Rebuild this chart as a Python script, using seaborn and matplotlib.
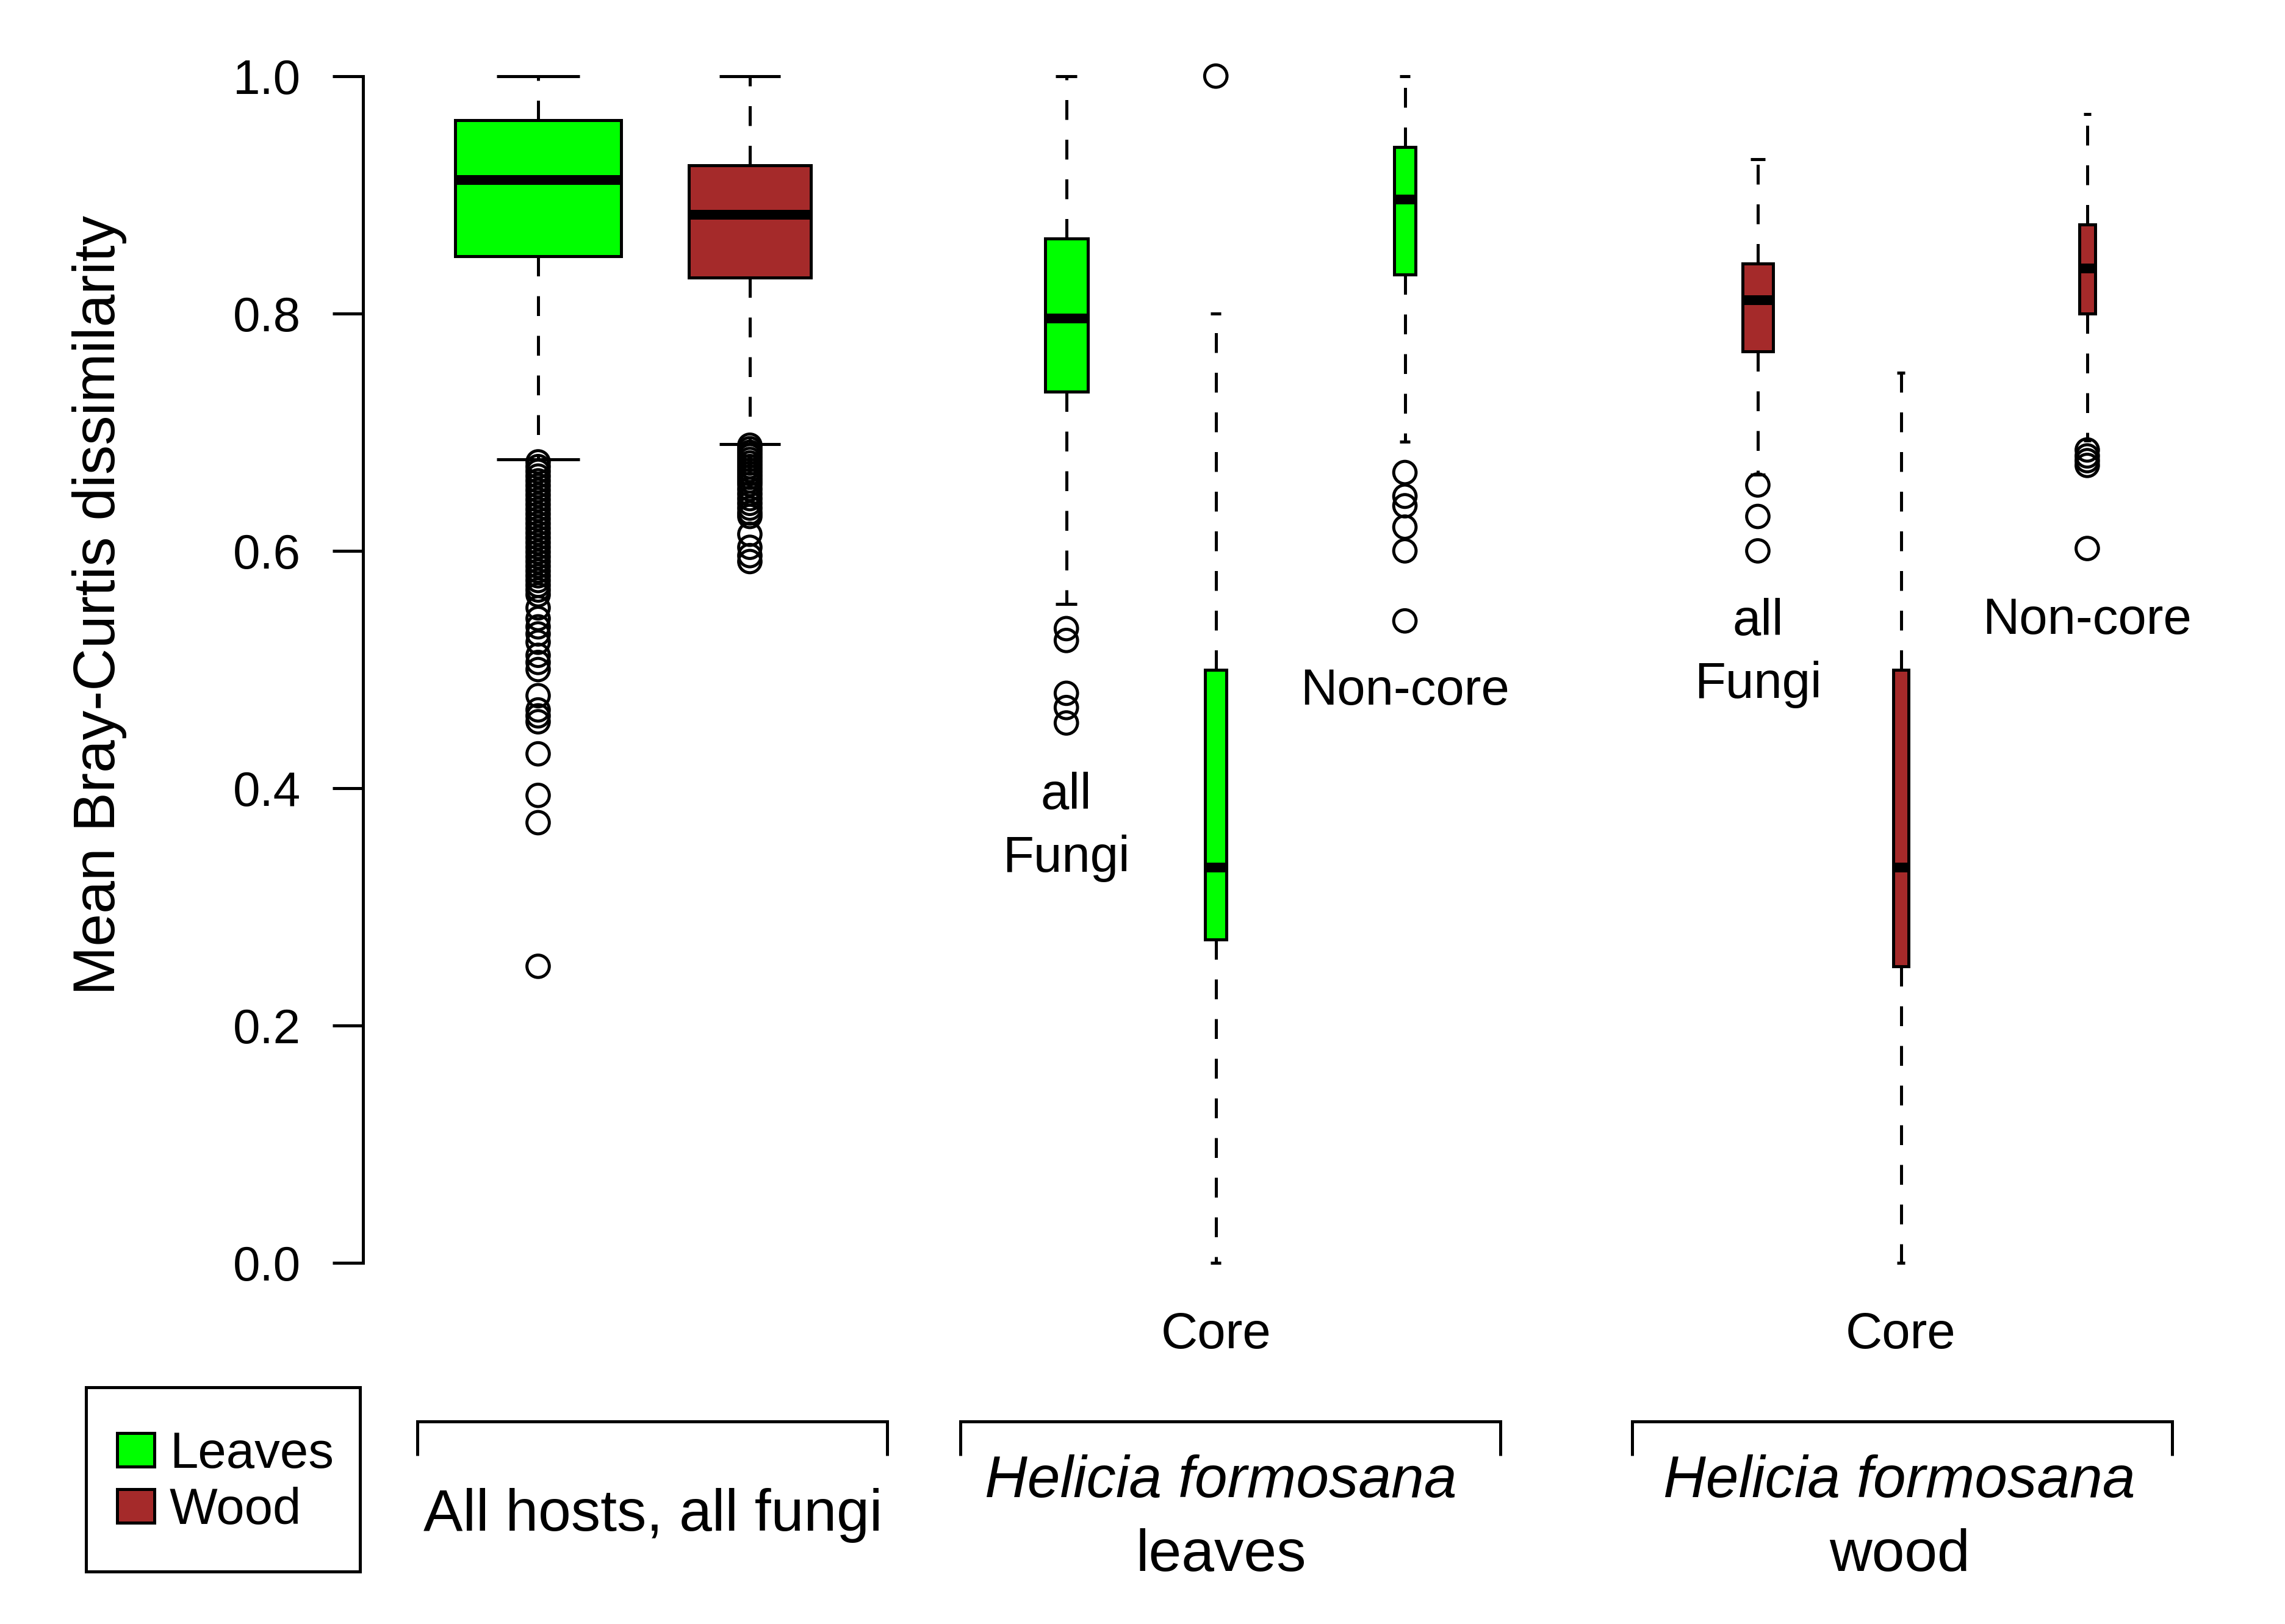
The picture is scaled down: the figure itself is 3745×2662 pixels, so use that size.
import matplotlib
matplotlib.use("Agg")
import matplotlib.pyplot as plt
import seaborn as sns
import pandas as pd
from matplotlib.patches import Patch, Rectangle

# ---------------- data ----------------
box_labels = [
    "All hosts, all fungi - Leaves",
    "All hosts, all fungi - Wood",
    "H. formosana leaves - all Fungi",
    "H. formosana leaves - Core",
    "H. formosana leaves - Non-core",
    "H. formosana wood - all Fungi",
    "H. formosana wood - Core",
    "H. formosana wood - Non-core",
]
tissue = ["Leaves", "Wood", "Leaves", "Leaves", "Leaves", "Wood", "Wood", "Wood"]

whisker_low = [0.677, 0.690, 0.555, 0.000, 0.692, 0.664, 0.000, 0.693]
q1_values = [0.848, 0.830, 0.734, 0.2725, 0.833, 0.768, 0.250, 0.800]
median_values = [0.9125, 0.883, 0.796, 0.333, 0.896, 0.811, 0.333, 0.838]
q3_values = [0.963, 0.925, 0.863, 0.500, 0.940, 0.842, 0.500, 0.875]
whisker_high = [1.000, 1.000, 1.000, 0.800, 1.000, 0.930, 0.750, 0.968]

outliers_all_leaves = [0.675, 0.671, 0.667, 0.663, 0.659, 0.655, 0.651, 0.647,
                       0.643, 0.639, 0.635, 0.631, 0.627, 0.623, 0.619, 0.615,
                       0.611, 0.607, 0.603, 0.599, 0.595, 0.591, 0.587, 0.583,
                       0.579, 0.575, 0.571, 0.567, 0.563, 0.552, 0.543, 0.536,
                       0.530, 0.523, 0.512, 0.506, 0.500, 0.478, 0.466, 0.461,
                       0.456, 0.429, 0.394, 0.371, 0.250]
outliers_all_wood = [0.689, 0.686, 0.683, 0.680, 0.677, 0.674, 0.671, 0.668,
                     0.665, 0.662, 0.659, 0.656, 0.652, 0.648, 0.644, 0.640,
                     0.636, 0.632, 0.629, 0.614, 0.603, 0.596, 0.591]
outliers_hf_leaves_all = [0.5345, 0.5245, 0.480, 0.468, 0.455]
outliers_hf_leaves_core = [1.000]
outliers_hf_leaves_noncore = [0.666, 0.646, 0.638, 0.620, 0.600, 0.541]
outliers_hf_wood_all = [0.6555, 0.629, 0.600]
outliers_hf_wood_core = []
outliers_hf_wood_noncore = [0.685, 0.680, 0.676, 0.672, 0.602]
outlier_lists = [outliers_all_leaves, outliers_all_wood, outliers_hf_leaves_all,
                 outliers_hf_leaves_core, outliers_hf_leaves_noncore,
                 outliers_hf_wood_all, outliers_hf_wood_core, outliers_hf_wood_noncore]

y_ticks = [0.0, 0.2, 0.4, 0.6, 0.8, 1.0]
y_tick_labels = ["0.0", "0.2", "0.4", "0.6", "0.8", "1.0"]
y_label = "Mean Bray-Curtis dissimilarity"
legend_labels = ["Leaves", "Wood"]
group_titles = ["All hosts, all fungi", "Helicia formosana", "Helicia formosana"]
group_subtitles = ["", "leaves", "wood"]

# ---------------- layout / style ----------------
W, H, DPI = 3745, 2662, 240
positions = [1.0, 2.0, 3.495, 4.201, 5.094, 6.761, 7.437, 8.317]
widths = [0.784, 0.577, 0.202, 0.100, 0.100, 0.1435, 0.071, 0.0726]
colors = {"Leaves": "#00FF00", "Wood": "#A52A2A"}
LW = 1.5

sns.set_style("ticks", rc={"axes.edgecolor": "black", "text.color": "black",
                           "xtick.color": "black", "ytick.color": "black",
                           "axes.labelcolor": "black"})
plt.rcParams["font.family"] = ["Liberation Sans", "DejaVu Sans"]

fig = plt.figure(figsize=(W / DPI, H / DPI), dpi=DPI)
fig.patch.set_facecolor("white")
ax_top_px, ax_bot_px = 46.9, 2148.1
ax = fig.add_axes([595 / W, 1 - ax_bot_px / H, (W - 595) / W, (ax_bot_px - ax_top_px) / H])
ax.set_facecolor("white")

stats = []
for lab, lo, a, m, b, hi in zip(box_labels, whisker_low, q1_values, median_values,
                                q3_values, whisker_high):
    stats.append(dict(label=lab, whislo=lo, q1=a, med=m, q3=b, whishi=hi, fliers=[]))

bp = ax.bxp(stats, positions=positions, widths=widths,
            capwidths=[w / 2 for w in widths], patch_artist=True,
            showfliers=False, manage_ticks=False,
            boxprops=dict(linewidth=LW, edgecolor="black", joinstyle="miter"),
            medianprops=dict(color="black", linewidth=4.8, solid_capstyle="butt"),
            whiskerprops=dict(color="black", linewidth=LW, linestyle=(0, (6.5, 6.5))),
            capprops=dict(color="black", linewidth=LW, solid_capstyle="butt"))
for patch, t in zip(bp["boxes"], tissue):
    patch.set_facecolor(colors[t])
    patch.set_zorder(3)
for med in bp["medians"]:
    med.set_zorder(4)

rows = []
for lab, vals in zip(box_labels, outlier_lists):
    for v in vals:
        rows.append({"group": lab, "value": v})
out_df = pd.DataFrame(rows)
out_df["x"] = out_df["group"].map(dict(zip(box_labels, positions)))
sns.scatterplot(data=out_df, x="x", y="value", ax=ax, s=121, fc="none",
                ec="black", linewidth=LW, legend=False, zorder=5, clip_on=False)

ax.set_xlim(0.173, 9.251)
ax.set_ylim(-0.04, 1.04)
ax.set_xticks([])
ax.set_xlabel("")
ax.set_yticks(y_ticks)
ax.set_yticklabels(y_tick_labels)
ax.tick_params(axis="y", length=15, width=LW, pad=15.6, labelsize=24, direction="out")
for s in ["top", "right", "bottom"]:
    ax.spines[s].set_visible(False)
ax.spines["left"].set_bounds(0, 1)
ax.spines["left"].set_linewidth(LW)
ax.set_ylabel(y_label, fontsize=29)
ax.yaxis.set_label_coords((208 - 595) / (W - 595), (ax_bot_px - 992) / (ax_bot_px - ax_top_px))

# in-plot annotations
ann = 25
ax.text(positions[2], 0.3826, "all", ha="center", va="baseline", fontsize=ann)
ax.text(positions[2], 0.3296, "Fungi", ha="center", va="baseline", fontsize=ann)
ax.text(positions[3], -0.0718, "Core", ha="center", va="baseline", fontsize=ann)
ax.text(positions[4], 0.4704, "Non-core", ha="center", va="baseline", fontsize=ann)
ax.text(positions[5], 0.5290, "all", ha="center", va="baseline", fontsize=ann)
ax.text(positions[5], 0.4761, "Fungi", ha="center", va="baseline", fontsize=ann)
ax.text(positions[6], -0.0718, "Core", ha="center", va="baseline", fontsize=ann)
ax.text(positions[7], 0.5300, "Non-core", ha="center", va="baseline", fontsize=ann)

# group brackets below the plot
brackets = [(0.429, 2.648), (2.994, 5.545), (6.167, 8.718)]
y_top, y_bot = -0.1335, -0.1623
for x0, x1 in brackets:
    ax.plot([x0, x0, x1, x1], [y_bot, y_top, y_top, y_bot], color="black", lw=LW,
            clip_on=False, solid_joinstyle="miter", solid_capstyle="butt")
ax.text(1.542, -0.2253, group_titles[0], ha="center", va="baseline", fontsize=29)
ax.text(4.225, -0.1972, group_titles[1], ha="center", va="baseline", fontsize=29, style="italic")
ax.text(4.225, -0.2594, group_subtitles[1], ha="center", va="baseline", fontsize=29)
ax.text(7.43, -0.1972, group_titles[2], ha="center", va="baseline", fontsize=29, style="italic")
ax.text(7.43, -0.2594, group_subtitles[2], ha="center", va="baseline", fontsize=29)

# legend (entries via matplotlib legend, frame drawn as a plain rectangle)
handles = [Patch(facecolor=colors[l], edgecolor="black", linewidth=LW, label=l)
           for l in legend_labels]
leg = ax.legend(handles=handles, loc="upper left", bbox_to_anchor=(141 / W, 1 - 2294 / H),
                bbox_transform=fig.transFigure, borderaxespad=0, frameon=False,
                fontsize=25, handlelength=0.73, handleheight=0.64, handletextpad=0.3,
                borderpad=0.61, labelspacing=0.165)
fig.patches.append(Rectangle((141 / W, 1 - 2576 / H), (590 - 141) / W, (2576 - 2274) / H,
                             transform=fig.transFigure, fill=False, edgecolor="black",
                             linewidth=LW, joinstyle="miter"))

fig.savefig("out.png", dpi=DPI, facecolor="white")
